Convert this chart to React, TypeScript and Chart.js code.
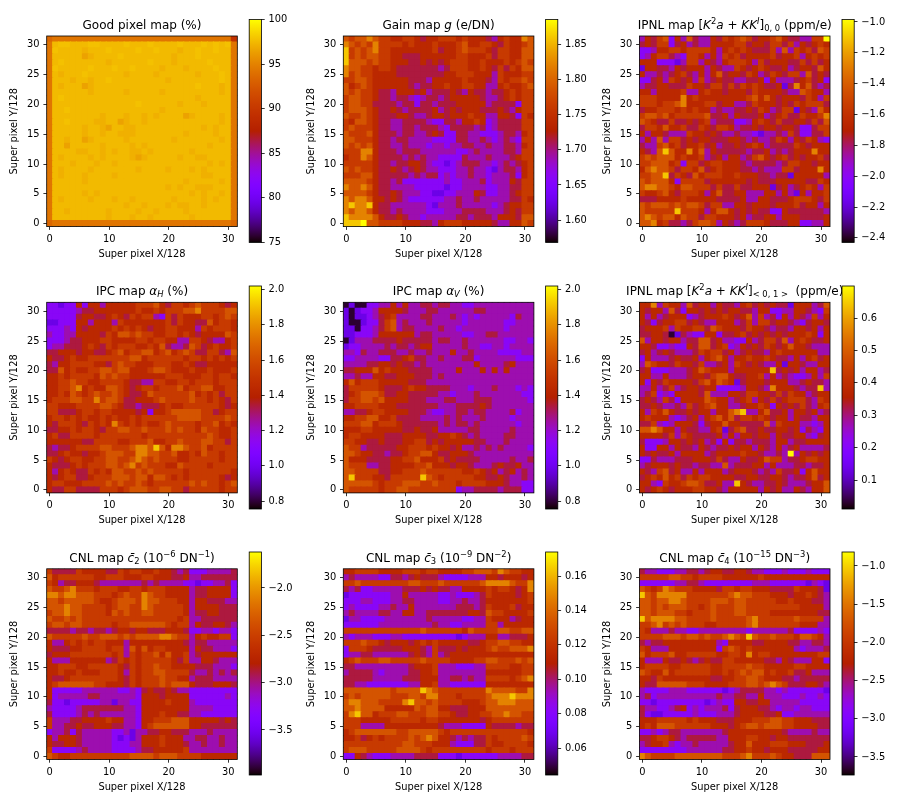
import React, { useEffect, useRef } from "react";
import { Chart, registerables } from "chart.js";
Chart.register(...registerables);

const FONT = "'DejaVu Sans'";
const TICK_PX = 9.85;
const TITLE_PX = 12;

// Each character is one cell. Rows run from y=31 (top) to y=0.
const goodPixelRows = [
"12222222 22222222 22222222 22222220","26776667 76666766 67666676 66767672","27666656 66766667 66766656 67667662","26666645 66667666 66666566 67666662",
"26766666 66566666 67666566 66676662","27666667 66676676 66656665 66667662","26566676 66666566 66566666 65666762","26665665 66766666 66665666 66666762",
"26566645 66666666 66666666 67666562","26666665 66666566 66656666 66666562","26766666 66666666 66666666 65666662","26666666 66666667 66666656 66566662",
"26676666 66666666 66656666 66666662","26666666 65666566 56566664 56666562","26676666 55664566 56666666 66666562","26666656 65466556 66666666 66565662",
"26666656 65665556 66666665 66665662","26656645 66666566 66666566 66666562","26646666 65666656 56666666 66656662","26666556 65656655 65666666 56666662",
"26566665 65666654 56666656 65566662","26665666 56656666 66666666 66656562","26566665 66666665 66665666 56566662","26566656 66656666 66666666 66556662",
"26666656 66666666 66666665 66666562","26666666 66666666 66665656 65556662","26666656 56666666 66666666 56566562","26566665 66656656 66666566 66565662",
"26666666 66666566 56665655 66566662","26656666 66566665 66566665 66666662","26666666 66566656 65666666 56666662","12222222 22222222 22222222 22222221",
];
const gainRows = [
"76778766 55665455 66656555 43565587","87676866 66565556 55567556 65465567","96767866 55555556 45567666 54665577","96767766 55444555 55566555 64665577",
"97776766 55544545 45666556 55565676","87766566 54444444 34666556 54646577","86766555 54444444 45566655 53655566","66776555 55544435 55556555 43656676",
"75676555 55543445 56556655 33565567","76766544 35554534 44543544 34456566","67766544 34432344 34555554 33456566","67766444 43442443 44455555 34444266",
"67776544 54344445 34545554 44543566","76676544 45543345 54555655 33554265","65776544 33444432 24435565 23444466","67666544 33443444 32444434 23444466",
"76667544 43443345 42244332 22344356","77666544 34433332 22244334 32343266","76767544 33433323 32334433 43344356","66688544 43444333 33322343 33344366",
"56687544 44343433 22224333 43334566","66666544 34455432 21234443 32343456","76766544 54345433 22233433 21344356","66677544 44434344 23233433 23334256",
"77776544 34222222 23223334 23335466","87787544 33332222 21223333 22334466","77776544 54333221 12233354 22334566","87887554 54322222 23343343 33334465",
"89889544 33333321 33343333 32345566","87887544 34333322 23334444 33345466","98888754 45433233 33344344 43555477","999a7766 66555443 56665555 54335576",
];
const ipnl00Rows = [
"35467253 74335465 67645567 5443366a","45466245 34335555 66455466 46354565","22355665 66665356 56544463 73656476","23566432 66535365 64555564 55635656",
"55522213 66354356 66536455 54464645","15544354 55535433 65456544 53455475","53343456 43535745 54653465 46637454","22453654 53634544 33445253 33456452",
"34455444 65546646 46565445 14857434","55355556 33565545 55465555 43376553","66655558 56555555 55675754 55546536","66656678 55566455 33465554 54656664",
"45566656 56553433 44546534 66154375","67767566 66674453 54445345 64465568","76544644 54563444 22356546 44554647","46657556 44654665 34454554 55422466",
"53554333 65545433 43321334 36422446","35373664 54554445 54343346 53546532","43367564 55645344 54565344 44654555","54379755 85735444 44344534 34555855",
"67677756 55634535 53467545 64545564","66777562 66456655 54344443 46655455","57877646 65745655 54434333 66455585","66779465 47566655 65554434 41555553",
"76777526 66645555 55454445 55554465","78877657 76664644 64455514 53456536","65567546 66535744 55333553 53153556","44455556 55555444 45335544 45666546",
"76777676 77646633 55455545 55645535","76666696 66535775 45454422 54444443","78767757 66466555 45344553 55544445","77856443 46776354 34666544 45522335",
];
const ipcHRows = [
"22122525 53555556 66754665 67666545","22222344 55555556 55656667 78666677","22222455 44565465 66326465 55665676","11222553 55536555 55556465 54475665",
"22232545 55565656 54556655 53656665","32233555 54657767 66556656 54555576","22234455 56655556 65665533 66543356","23344456 54656665 56574334 76456556",
"44555455 44567566 77567567 64466437","54456556 66666677 56666665 66565656","43556666 55467665 55666556 54455555","44756556 67767755 56776555 65565556",
"55656666 57676655 55556665 55665665","55667665 56666544 33665566 56665666","55667856 55776545 66566675 66775566","55657656 76676544 57666666 75656466",
"56667766 86776445 55676666 76656546","66555666 67765443 44456556 66666545","66444566 56655554 52556777 77664566","56656565 56565565 66666677 77666676",
"54666546 56586565 65567666 65667565","44556566 54667766 76667676 65766556","56446666 56666666 56666666 66676556","55555544 66665566 67556676 66776646",
"43445666 67766678 87975887 66756666","44565545 56777668 87766755 65766566","65456655 66776678 76766655 66666566","54445656 66776786 76665576 66656666",
"53565446 56577667 67666665 66666665","54566445 66677767 75776565 66666545","56655566 66767667 65666666 76766567","54466444 46665677 76677664 66666566",
];
const ipcVRows = [
"01002233 53533443 44332233 33333333","10122355 55433344 33333344 33333333","10112345 63333443 33432323 33332433","10012246 73433343 33332333 33322333",
"11022346 73443333 43323333 33323333","11222355 55553443 33332233 44333333","01333444 45444443 44334333 33322332","12233334 34434553 33334332 23323333",
"33243344 43343343 33533433 33222233","22333322 44564433 43334423 33333222","33334455 45443433 33333353 33345333","44555756 55544443 33353335 35353333",
"33433554 45554443 43333333 33333333","57566655 55544433 33333333 33333333","46666654 44565544 44333233 34333232","45677764 45544444 33233343 33333322",
"46677675 55544433 34433344 43333332","55666655 54444444 33344445 43333333","33445665 55544432 23344344 33334233","55667755 64444333 34343334 33332333",
"66677566 65444444 34344343 33333233","55566555 55445445 33333443 33334333","56655554 44555544 55654343 33344333","66554454 44556645 45555544 33343333",
"76634444 45566656 55453343 43433332","77655443 44566775 44555433 33333333","75554444 55667555 64544443 33334334","76663344 55556675 55455433 34544533",
"77666644 55666766 66665565 45345343","79666554 66666976 56666655 44543343","77777656 66777667 66656666 55543322","76666656 67766666 66623344 44344422",
];
const ipnl01Rows = [
"55836553 74553544 35645454 41555347","54553742 55454545 54435522 33554326","53534555 23455565 45736342 53543635","54245566 45433555 34636645 54324554",
"45556365 56647655 54655434 43554535","44554014 32255244 56454545 45556525","73554553 44774533 22534664 73565445","55422322 54774562 35454654 57554333",
"45345433 34656645 34544356 55555533","25333454 45356753 55655654 43535645","37655465 54633453 65454335 15543355","45222333 45765553 55555594 54535534",
"55335333 45546775 44556353 43223536","52546555 54675765 14555455 53345443","33534634 55455222 23554385 55434493","34623255 55473335 54665546 46553455",
"45436425 55576553 45635464 56664365","44543343 64567553 34556525 45464356","53657544 54553557 89335744 53554534","56555323 45356757 46656545 53544355",
"44632355 54245575 54444736 55533235","77875535 44335614 67445445 54524325","55554636 54444535 35545535 44553245","42223554 54534252 44344435 53445555",
"52255354 43543445 45535435 34533334","54544535 55534555 56554334 3a354545","22433344 45554643 35445766 34456655","34555454 43443373 44455353 33443445",
"54367453 35355534 55543436 44525755","45657564 65665555 44554455 43445745","55326556 77644533 95433445 43334557","54565455 56655435 55553545 33543557",
];
const cnlC2Rows = [
"64444655 55446566 55655434 22233334","75666666 55666555 66555445 33444444","65344555 43333333 43433332 21223342","76678666 56665566 56665555 34455552",
"88788777 66656766 87665555 34455552","77677777 65567776 87766655 35544433","77787766 66567766 87666665 35555444","67787766 66576766 77666665 34455444",
"76676766 66666666 66666656 33444444","67767766 66656677 77776566 35445543","44443443 44345545 54445554 22332332","76666676 67776767 77788766 35655662",
"53356565 66555355 55555554 34433333","54445566 66566375 75665555 35443332","45556666 66656365 66757556 34555555","53335555 55346565 66666546 33554333",
"55666556 66665465 66766555 54443332","55655655 56665365 66776666 43343434","54456666 66665465 66676655 34443333","56777777 66555465 66676777 54445554",
"52222233 33332232 45445433 22222222","52333334 43333332 55545555 22222232","42212222 23313322 55556555 32222222","32222344 44444332 55555555 33332222",
"42222343 43333332 55565544 33222222","63334455 55655332 55666777 55555454","63344544 55544332 56777777 55444444","23342433 33322313 34455444 33343333",
"53555433 33321213 55565553 34433433","54455433 33322233 55565554 33433433","62222343 33322223 44555556 33333333","76556666 66666677 77677766 66555555",
];
const cnlC3Rows = [
"55666655 55666566 55556677 76876655","34333322 44345444 32222333 55455545","66766666 66677666 76666667 88887668","43422333 33444545 44335555 65665458",
"12222222 33533333 22322234 65555456","22233222 33443333 22334334 55555556","23222233 43353333 33344434 65556455","34333344 33553344 44444554 76655556",
"13322223 33333343 33332233 65553455","22222233 33333334 33223333 66355555","66666666 66666766 66665766 66776677","32333222 33222222 22212333 55334445",
"66676654 55545656 55555445 66776655","26665444 44555436 44454555 67667778","23344333 33345436 34555555 55555555","56766677 66666766 66555566 77666767",
"44333333 33345556 33322233 66665566","34444323 33344556 33333333 55555566","44444333 33444555 33443433 66665678","44332222 22233556 33222222 55555555",
"77777777 67777987 66666666 87777668","67677777 66677688 66656666 78889888","78877766 66897767 66665556 77888777","77877775 55557677 55444555 77777777",
"68977566 67766677 66544556 67787766","66655555 66666566 55555554 56666666","66633335 55555555 43332222 54444344","56777777 76677777 65666666 66666665",
"55645656 66676787 55434344 65666676","66666666 66776665 55322244 65566665","67776666 67777656 66666666 56665666","22543222 33334444 22212222 22333344",
];
const cnlC4Rows = [
"43322233 44345544 55433222 32223222","66666776 65666655 55556555 55555555","22222233 44322222 22233322 22221321","76568766 65555466 56655544 44655541",
"97688888 66666667 87766655 54556543","77677887 66667776 77666665 56555443","77676777 66567666 77666666 66655553","77677766 56667666 77666655 55555544",
"97888877 66667666 66786666 66766663","66786767 66655666 66786666 66655533","65333433 22333333 33233333 34222232","66667776 77676678 76976676 66577653",
"43445555 55555325 55544555 54433443","65333555 55555267 65655555 55323334","75666755 66666556 65856655 55555566","53335445 43454466 55555443 54333552",
"56666556 66665566 66766555 55665555","76557566 66665565 67677565 56445333","55465555 55554455 66776555 44344444","54477777 66655556 66776787 64445543",
"32222333 22222212 34444332 32222221","34233333 33333433 44335333 22232232","22122222 22212322 55445533 33322222","43322345 23233342 45554432 33233222",
"42112222 23222333 45555445 22333333","55566666 56555444 55566677 66555444","56577766 66665554 56776777 66555544","22323443 33333345 55555555 43333433",
"44566543 44444335 55665545 54444444","34556323 34333334 55755566 65554445","22222222 33333344 55655455 54444455","87666677 77777766 67866676 55444777",
];

// Value of a character on each panel's scale, as a share of the colour bar.
const shadeLevels = [0.03, 0.18, 0.29, 0.38, 0.46, 0.54, 0.61, 0.69, 0.8, 0.92, 1];
// Good pixel percentages for the characters of goodPixelRows.
const goodLevels = [89.5, 93.5, 94.3, 95, 96.5, 97.1, 97.5, 97.8, 98.2, 99, 100];

const xTicks = [0, 10, 20, 30];
const yTicks = [0, 5, 10, 15, 20, 25, 30];
const goodBar = [75, 80, 85, 90, 95, 100];
const gainBar = [1.6, 1.65, 1.7, 1.75, 1.8, 1.85];
const ipnl00Bar = [-2.4, -2.2, -2.0, -1.8, -1.6, -1.4, -1.2, -1.0];
const ipcBar = [0.8, 1.0, 1.2, 1.4, 1.6, 1.8, 2.0];
const ipnl01Bar = [0.1, 0.2, 0.3, 0.4, 0.5, 0.6];
const c2Bar = [-3.5, -3.0, -2.5, -2.0];
const c3Bar = [0.06, 0.08, 0.1, 0.12, 0.14, 0.16];
const c4Bar = [-3.5, -3.0, -2.5, -2.0, -1.5, -1.0];

type Seg = [string, string?];
const ipnlHead: Seg[] = [["IPNL map ["], ["K", "i"], ["2", "s"], ["a", "i"], [" + "], ["KK", "i"], ["I", "is"], ["]"]];
const panels: any[] = [
  { rows: goodPixelRows, levels: goodLevels, lo: 75, hi: 100, bar: goodBar, dec: 0, title: [["Good pixel map (%)"]] },
  { rows: gainRows, lo: 1.568, hi: 1.886, bar: gainBar, dec: 2, title: [["Gain map "], ["g", "i"], [" (e/DN)"]] },
  { rows: ipnl00Rows, lo: -2.43, hi: -0.984, bar: ipnl00Bar, dec: 1, title: [...ipnlHead, ["0, 0", "b"], [" (ppm/e)"]] },
  { rows: ipcHRows, lo: 0.755, hi: 2.02, bar: ipcBar, dec: 1, title: [["IPC map "], ["α", "i"], ["H", "ib"], [" (%)"]] },
  { rows: ipcVRows, lo: 0.755, hi: 2.02, bar: ipcBar, dec: 1, title: [["IPC map "], ["α", "i"], ["V", "ib"], [" (%)"]] },
  { rows: ipnl01Rows, lo: 0.0105, hi: 0.699, bar: ipnl01Bar, dec: 1, title: [...ipnlHead, ["< 0, 1 >", "b"], ["  (ppm/e)"]] },
  { rows: cnlC2Rows, lo: -3.976, hi: -1.62, bar: c2Bar, dec: 1, title: [["CNL map "], ["c\u0304", "i"], ["2", "b"], [" (10"], ["\u22126", "s"], [" DN"], ["\u22121", "s"], [")"]] },
  { rows: cnlC3Rows, lo: 0.0443, hi: 0.174, bar: c3Bar, dec: 2, title: [["CNL map "], ["c\u0304", "i"], ["3", "b"], [" (10"], ["\u22129", "s"], [" DN"], ["\u22122", "s"], [")"]] },
  { rows: cnlC4Rows, lo: -3.736, hi: -0.817, bar: c4Bar, dec: 1, title: [["CNL map "], ["c\u0304", "i"], ["4", "b"], [" (10"], ["\u221215", "s"], [" DN"], ["\u22123", "s"], [")"]] },
];

const plotLeft = [46.7, 343.3, 639.4];
const plotTop = [36, 302.3, 568.8];
const plotSize = 190.6;
const barLeft = [249.2, 545.6, 842];
const barTop = [19.5, 286, 552];
const barWidth = 12.2;
const barHeight = 223;

function gnuplot(x: number) {
  const t = Math.min(1, Math.max(0, x));
  const r = Math.sqrt(t), g = t * t * t, b = Math.max(0, Math.sin(2 * Math.PI * t));
  return `rgb(${Math.round(r * 255)},${Math.round(g * 255)},${Math.round(b * 255)})`;
}

function cellsOf(p: any) {
  const out: { x: number; y: number; v: number }[] = [];
  p.rows.forEach((row: string, r: number) => {
    const chars = row.replace(/ /g, "");
    for (let c = 0; c < 32; c++) {
      const k = parseInt(chars[c] ?? "5", 36);
      const v = p.levels ? p.levels[k] : p.lo + shadeLevels[k] * (p.hi - p.lo);
      out.push({ x: c, y: 31 - r, v });
    }
  });
  return out;
}

const frame = {
  id: "frame",
  afterDraw(chart: any) {
    const a = chart.chartArea, c = chart.ctx;
    c.save();
    c.strokeStyle = "#000";
    c.lineWidth = 0.8;
    c.strokeRect(a.left, a.top, a.right - a.left, a.bottom - a.top);
    c.restore();
  },
};

function richTitle(segs: Seg[]) {
  return {
    id: "richTitle",
    afterDraw(chart: any) {
      const a = chart.chartArea, c = chart.ctx;
      const fontFor = (st = "") => {
        const small = st.includes("s") || st.includes("b");
        return `${st.includes("i") ? "italic " : ""}${small ? TITLE_PX * 0.7 : TITLE_PX}px ${FONT}`;
      };
      c.save();
      let w = 0;
      segs.forEach(([t, st]) => { c.font = fontFor(st); w += c.measureText(t).width; });
      let x = (a.left + a.right) / 2 - w / 2;
      const base = a.top - 7;
      c.fillStyle = "#000";
      c.textAlign = "left";
      c.textBaseline = "alphabetic";
      segs.forEach(([t, st = ""]) => {
        c.font = fontFor(st);
        const dy = st.includes("s") ? -TITLE_PX * 0.42 : st.includes("b") ? TITLE_PX * 0.18 : 0;
        c.fillText(t, x, base + dy);
        x += c.measureText(t).width;
      });
      c.restore();
    },
  };
}

const tickStyle = { color: "#000", font: { family: FONT, size: TICK_PX }, padding: 3.8, autoSkip: false, maxRotation: 0 };
const gridStyle = { drawOnChartArea: false, drawTicks: true, tickLength: 3.3, tickWidth: 0.8, tickColor: "#000" };

function Panel({ p, col, row }: { p: any; col: number; row: number }) {
  const heatRef = useRef<HTMLCanvasElement>(null);
  const barRef = useRef<HTMLCanvasElement>(null);
  const L = plotLeft[col], T = plotTop[row];
  const heatX = Math.floor(L) - 47, heatY = Math.floor(T) - 30;
  const axisW = L - heatX, padTop = T - heatY, axisH = 40, padRight = 14;
  const heatW = Math.ceil(axisW + plotSize + padRight);
  const heatH = Math.ceil(padTop + plotSize + axisH);
  const BL = barLeft[col], BT = barTop[row];
  const barX = Math.floor(BL) - 3, barY = Math.floor(BT) - 12;
  const barW = 60, barH = barHeight + 26;

  useEffect(() => {
    const areaW = plotSize;
    const heat = new Chart(heatRef.current!, {
      type: "scatter",
      data: {
        datasets: [{
          data: cellsOf(p),
          clip: 0,
          pointStyle: "rect",
          pointRadius: (c: any) => (c.chart.chartArea ? (c.chart.chartArea.width / 32 + 1.1) * Math.SQRT1_2 : 1),
          pointBorderWidth: 0,
          pointBackgroundColor: (c: any) => gnuplot((c.raw.v - p.lo) / (p.hi - p.lo)),
        } as any],
      },
      options: {
        responsive: false,
        animation: false,
        devicePixelRatio: 1,
        events: [],
        layout: { padding: { left: 0, top: padTop, right: heatW - axisW - areaW, bottom: 0 } },
        plugins: { legend: { display: false }, tooltip: { enabled: false }, title: { display: false } },
        scales: {
          x: {
            type: "linear", min: -0.5, max: 31.5,
            afterBuildTicks: (s: any) => { s.ticks = xTicks.map((value) => ({ value })); },
            afterFit: (s: any) => { s.height = heatH - padTop - plotSize; },
            ticks: { ...tickStyle, callback: (v: any) => String(v) },
            grid: gridStyle, border: { display: false },
            title: { display: true, text: "Super pixel X/128", color: "#000", font: { family: FONT, size: TICK_PX }, padding: { top: 0, bottom: 6.6 } },
          },
          y: {
            type: "linear", min: -0.5, max: 31.5,
            afterBuildTicks: (s: any) => { s.ticks = yTicks.map((value) => ({ value })); },
            afterFit: (s: any) => { s.width = axisW; },
            ticks: { ...tickStyle, callback: (v: any) => String(v) },
            grid: gridStyle, border: { display: false },
            title: { display: true, text: "Super pixel Y/128", color: "#000", font: { family: FONT, size: TICK_PX }, padding: { top: axisW - 32 - 5.9, bottom: 0 } },
          },
        },
      } as any,
      plugins: [frame, richTitle(p.title)] as any,
    });

    const offL = BL - barX, offT = BT - barY;
    const bar = new Chart(barRef.current!, {
      type: "bar",
      data: {
        labels: ["colour"],
        datasets: [{
          data: [[p.lo, p.hi]],
          barPercentage: 1,
          categoryPercentage: 1,
          borderWidth: 0,
          backgroundColor: (c: any) => {
            const a = c.chart.chartArea;
            if (!a) return "#000";
            const g = c.chart.ctx.createLinearGradient(0, a.bottom, 0, a.top);
            for (let i = 0; i <= 128; i++) g.addColorStop(i / 128, gnuplot(i / 128));
            return g;
          },
        } as any],
      },
      options: {
        responsive: false,
        animation: false,
        devicePixelRatio: 1,
        events: [],
        layout: { padding: { left: offL, top: offT, right: 0, bottom: barH - offT - barHeight } },
        plugins: { legend: { display: false }, tooltip: { enabled: false } },
        scales: {
          x: { display: false },
          y: {
            position: "right", min: p.lo, max: p.hi,
            afterBuildTicks: (s: any) => { s.ticks = p.bar.map((value: number) => ({ value })); },
            afterFit: (s: any) => { s.width = barW - offL - barWidth; },
            ticks: { ...tickStyle, callback: (v: any) => Number(v).toFixed(p.dec).replace("-", "\u2212") },
            grid: gridStyle, border: { display: false },
          },
        },
      } as any,
      plugins: [frame] as any,
    });
    return () => { heat.destroy(); bar.destroy(); };
  }, []);

  return (
    <>
      <canvas ref={heatRef} width={heatW} height={heatH} style={{ position: "absolute", left: heatX, top: heatY, width: heatW, height: heatH }} />
      <canvas ref={barRef} width={barW} height={barH} style={{ position: "absolute", left: barX, top: barY, width: barW, height: barH }} />
    </>
  );
}

export default function App() {
  return (
    <div style={{ position: "absolute", left: 0, top: 0, width: 900, height: 810, background: "#fff", overflow: "hidden" }}>
      {panels.map((p, i) => (
        <Panel key={i} p={p} col={i % 3} row={Math.floor(i / 3)} />
      ))}
    </div>
  );
}
